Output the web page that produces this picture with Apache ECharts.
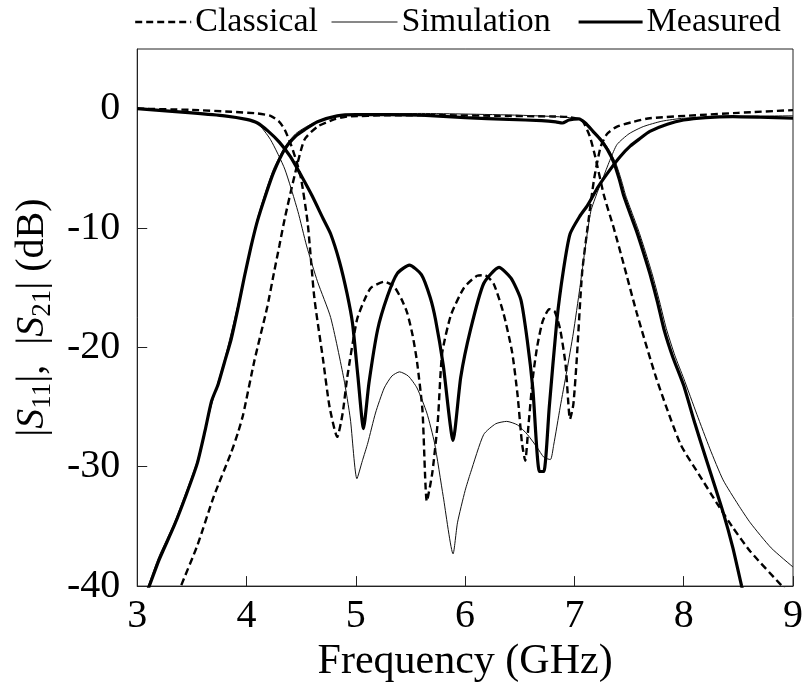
<!DOCTYPE html>
<html>
<head>
<meta charset="utf-8">
<script src="https://cdn.jsdelivr.net/npm/echarts@6/dist/echarts.min.js"></script>
<style>html,body{margin:0;padding:0;background:#fff}#c{width:807px;height:688px}</style>
</head>
<body>
<div id="c"></div>
<script>
// ---- data (frequency GHz, dB) ----
var classicalS11 = [[3.0,0],[3.5,-0.1],[3.86,-0.26],[4.1,-0.4],[4.22,-0.6],[4.3,-1.1],[4.35,-1.77],[4.41,-3.1],[4.46,-4.5],[4.5,-5.9],[4.56,-9.6],[4.62,-15.8],[4.7,-21.0],[4.76,-25.0],[4.83,-27.5],[4.88,-25.5],[4.92,-22.6],[5.01,-17.7],[5.08,-16.0],[5.14,-15.0],[5.26,-14.5],[5.35,-14.9],[5.42,-16.0],[5.47,-17.1],[5.52,-19.0],[5.56,-21.2],[5.61,-25.3],[5.65,-32.9],[5.7,-30.5],[5.75,-26.2],[5.79,-20.5],[5.87,-17.3],[5.99,-15.0],[6.11,-14.0],[6.18,-13.95],[6.26,-14.65],[6.35,-17.1],[6.43,-20.4],[6.48,-24],[6.52,-28],[6.55,-29.5],[6.58,-26.5],[6.62,-22.5],[6.66,-19.9],[6.71,-17.8],[6.77,-16.8],[6.82,-17.0],[6.87,-18.5],[6.92,-21.5],[6.96,-26.0],[6.99,-24.8],[7.02,-21.2],[7.07,-13.8],[7.12,-10],[7.18,-5.9],[7.24,-3.2],[7.3,-2.1],[7.39,-1.5],[7.54,-1.1],[7.69,-0.8],[8.15,-0.53],[8.5,-0.35],[9.0,-0.12]];
var classicalS21 = [[3.3,-42.5],[3.4,-40],[3.55,-36.6],[3.7,-32.5],[3.86,-28.8],[3.92,-27.2],[3.97,-25.6],[4.07,-21.2],[4.19,-16.6],[4.25,-13.8],[4.3,-11.5],[4.35,-9.2],[4.44,-5.6],[4.53,-2.6],[4.65,-1.5],[4.8,-0.9],[4.92,-0.67],[5.3,-0.55],[5.8,-0.55],[6.3,-0.6],[6.8,-0.65],[6.95,-0.7],[7.03,-0.85],[7.08,-1.1],[7.14,-2.3],[7.19,-4],[7.27,-7.25],[7.36,-10],[7.45,-13],[7.57,-17.1],[7.75,-22.6],[7.97,-28.1],[8.15,-30.8],[8.3,-33],[8.45,-35.1],[8.61,-37.1],[8.9,-40],[9.0,-41]];
var simulationS11 = [[3.0,0],[3.5,-0.35],[3.8,-0.6],[4.0,-0.9],[4.1,-1.2],[4.22,-2.6],[4.35,-5.06],[4.47,-8.6],[4.55,-11.5],[4.65,-14.5],[4.77,-17.5],[4.89,-22.6],[4.95,-26],[5.01,-31],[5.06,-29.5],[5.11,-28],[5.18,-25.5],[5.26,-23.4],[5.33,-22.4],[5.4,-22.05],[5.48,-22.4],[5.56,-23.4],[5.65,-25.5],[5.72,-28],[5.8,-32.5],[5.89,-37.3],[5.93,-34.7],[6.0,-32.0],[6.05,-30.5],[6.17,-27.3],[6.28,-26.4],[6.38,-26.2],[6.48,-26.5],[6.57,-27.3],[6.66,-28.4],[6.72,-29.2],[6.78,-29.4],[6.81,-28.2],[6.87,-25],[6.93,-22],[6.99,-18.8],[7.05,-15],[7.1,-11.6],[7.15,-8.6],[7.21,-7.0],[7.27,-5.6],[7.33,-4.2],[7.39,-3.0],[7.5,-2.1],[7.63,-1.5],[7.8,-1.05],[8.0,-0.8],[8.5,-0.65],[9.0,-0.6]];
var simulationS21 = [[3.0,-42.5],[3.1,-40],[3.2,-37.5],[3.34,-34.7],[3.55,-29.5],[3.68,-24.8],[3.8,-21.0],[3.92,-16.5],[4.04,-11.5],[4.1,-9.2],[4.18,-6.8],[4.25,-5.0],[4.35,-3.2],[4.45,-2.1],[4.55,-1.5],[4.7,-0.9],[4.9,-0.55],[5.2,-0.45],[5.6,-0.4],[6.0,-0.45],[6.5,-0.55],[6.9,-0.7],[7.05,-0.9],[7.12,-1.3],[7.19,-2.0],[7.26,-2.7],[7.32,-3.5],[7.38,-4.6],[7.43,-6.0],[7.47,-7.3],[7.53,-8.8],[7.59,-10.3],[7.65,-12.0],[7.71,-13.8],[7.78,-16.2],[7.84,-18.4],[7.92,-20.7],[8.0,-22.6],[8.12,-25.6],[8.24,-28.5],[8.36,-31.1],[8.5,-33.2],[8.61,-34.7],[8.8,-36.8],[9.0,-38.4]];
var measuredS11 = [[3.0,0],[3.5,-0.35],[3.8,-0.6],[4.0,-0.9],[4.1,-1.2],[4.2,-1.9],[4.3,-2.8],[4.4,-4.0],[4.5,-5.6],[4.6,-7.3],[4.7,-9.2],[4.77,-10.5],[4.85,-12.8],[4.92,-15.5],[4.97,-18.0],[5.02,-22.5],[5.07,-26.8],[5.12,-23],[5.2,-18.5],[5.29,-15.7],[5.38,-13.8],[5.49,-13.1],[5.6,-13.9],[5.68,-15.8],[5.73,-17.7],[5.8,-21.5],[5.89,-27.8],[5.96,-22.5],[6.05,-18.5],[6.17,-14.65],[6.31,-13.3],[6.42,-14.2],[6.51,-16],[6.57,-19.5],[6.62,-23.5],[6.68,-30.4],[6.72,-30.4],[6.77,-25],[6.84,-17.7],[6.9,-13.5],[6.96,-10.5],[7.05,-9.0],[7.12,-8.1],[7.22,-6.5],[7.33,-5.06],[7.42,-4.0],[7.51,-3.14],[7.6,-2.5],[7.69,-1.9],[7.85,-1.3],[8.0,-0.95],[8.2,-0.75],[8.45,-0.67],[8.7,-0.72],[9.0,-0.8]];
var measuredS21 = [[3.0,-42.5],[3.11,-40],[3.2,-37.8],[3.34,-34.9],[3.45,-32.3],[3.55,-29.7],[3.62,-27],[3.68,-24.5],[3.74,-23.1],[3.8,-21.2],[3.86,-19.3],[3.92,-16.8],[3.98,-14.1],[4.04,-11.6],[4.1,-9.4],[4.18,-7.1],[4.25,-5.3],[4.35,-3.4],[4.45,-2.3],[4.53,-1.77],[4.65,-1.1],[4.83,-0.6],[5.0,-0.5],[5.3,-0.5],[5.6,-0.55],[6.0,-0.75],[6.4,-0.9],[6.7,-1.0],[6.83,-1.1],[6.89,-1.2],[6.95,-0.95],[7.04,-0.85],[7.1,-1.2],[7.17,-1.9],[7.24,-2.6],[7.3,-3.4],[7.36,-4.5],[7.41,-5.9],[7.45,-7.25],[7.51,-8.8],[7.57,-10.3],[7.63,-12.0],[7.69,-13.8],[7.76,-16.2],[7.82,-18.5],[7.9,-20.8],[8.0,-23.2],[8.1,-26.3],[8.2,-29.2],[8.36,-33.8],[8.45,-36.8],[8.53,-40],[8.6,-42.5]];
var seriesNames = ['Classical', 'Simulation', 'Measured'];
var xAxisTitle = 'Frequency (GHz)';

var FONT = '"Liberation Serif", "Times New Roman", serif';
var chart = echarts.init(document.getElementById('c'), null, {renderer: 'canvas'});

var styles = {
  'Classical': {color: '#000', width: 2.4, type: [7, 4]},
  'Simulation': {color: '#111', width: 1, type: 'solid'},
  'Measured': {color: '#000', width: 3.2, type: 'solid'}
};
function mk(name, data) {
  return {
    name: name, type: 'line', data: data, showSymbol: false, symbol: 'none',
    smooth: 0.2, clip: true, animation: false, color: '#000',
    itemStyle: {color: '#000'},
    lineStyle: styles[name]
  };
}
function legendItem(name, left, w) {
  var ls = styles[name];
  return {
    data: [name], left: left, top: 5, itemWidth: w, itemHeight: 14, itemGap: 0,
    selectedMode: false, padding: 0,
    itemStyle: {opacity: 0},
    lineStyle: {color: ls.color, width: ls.width, type: ls.type},
    textStyle: {fontFamily: FONT, fontSize: 34, color: '#000', padding: [0, 0, 0, -1]}
  };
}

chart.setOption({
  animation: false,
  backgroundColor: '#fff',
  legend: [
    legendItem(seriesNames[0], 134, 56),
    legendItem(seriesNames[1], 331, 66),
    legendItem(seriesNames[2], 577, 64)
  ],
  grid: {left: 136, right: 14, top: 49, bottom: 93, show: true, borderColor: '#222', borderWidth: 1, backgroundColor: 'transparent'},
  xAxis: {
    type: 'value', min: 3, max: 9, interval: 1,
    name: xAxisTitle, nameLocation: 'middle', nameGap: 47,
    nameTextStyle: {fontFamily: FONT, fontSize: 42, color: '#000'},
    axisLine: {show: true, onZero: false, lineStyle: {color: '#222', width: 1}},
    axisTick: {show: true, inside: true, length: 10, lineStyle: {color: '#222'}},
    axisLabel: {fontFamily: FONT, fontSize: 40, color: '#000', margin: 10},
    splitLine: {show: false}
  },
  yAxis: {
    type: 'value', min: -40, max: 5, interval: 10,
    name: '|{i|S}{s|11}|,  |{i|S}{s|21}| (dB)', nameLocation: 'middle', nameGap: 70, nameRotate: 90,
    nameTextStyle: {
      fontFamily: FONT, fontSize: 40, color: '#000', lineHeight: 48,
      rich: {
        i: {fontFamily: FONT, fontSize: 40, fontStyle: 'italic', color: '#000', lineHeight: 48},
        s: {fontFamily: FONT, fontSize: 27, color: '#000', lineHeight: 27, verticalAlign: 'bottom'}
      }
    },
    axisLine: {show: true, onZero: false, lineStyle: {color: '#222', width: 1}},
    axisTick: {show: true, inside: true, length: 10, lineStyle: {color: '#222'}},
    axisLabel: {fontFamily: FONT, fontSize: 40, color: '#000', margin: 17, showMaxLabel: false,
      formatter: function (v) { return v > 0 ? '' : String(v); }},
    splitLine: {show: false}
  },
  series: [
    mk('Classical', classicalS11),
    mk('Classical', classicalS21),
    mk('Simulation', simulationS11),
    mk('Simulation', simulationS21),
    mk('Measured', measuredS11),
    mk('Measured', measuredS21)
  ]
});
</script>
</body>
</html>
